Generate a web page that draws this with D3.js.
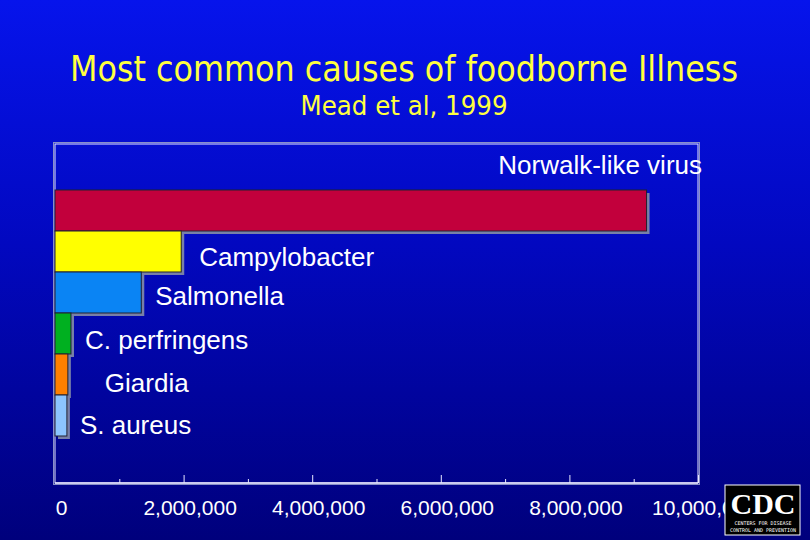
<!DOCTYPE html>
<html>
<head>
<meta charset="utf-8">
<script src="https://cdn.jsdelivr.net/npm/d3@7"></script>
<style>
  html, body { margin: 0; padding: 0; background: #00008a; }
  svg { display: block; }
</style>
</head>
<body>
<svg id="chart" width="810" height="540"></svg>
<script>
// ---- data ----
const categories = ["Norwalk-like virus", "Campylobacter", "Salmonella", "C. perfringens", "Giardia", "S. aureus"];
const cases = [9200000, 1963141, 1341873, 248520, 200000, 185060];
const barColors = ["#c2003c", "#ffff00", "#0a84f4", "#00b020", "#ff8000", "#8cc4ff"];
const tickValues = [0, 2000000, 4000000, 6000000, 8000000, 10000000];
const minorTickValues = [1000000, 3000000, 5000000, 7000000, 9000000];
const titleText = "Most common causes of foodborne Illness";
const subtitleText = "Mead et al, 1999";

// ---- layout (styling only) ----
const labelDx = [0, 18, 14, 14, 37, 13];
const labelDy = [0, 7, 5, 8, 10, 11];

const svg = d3.select("#chart");
const W = 810, H = 540;

const defs = svg.append("defs");
const grad = defs.append("linearGradient").attr("id", "bg").attr("x1", 0).attr("y1", 0).attr("x2", 0).attr("y2", 1);
grad.append("stop").attr("offset", "0%").attr("stop-color", "#0614ec");
grad.append("stop").attr("offset", "45%").attr("stop-color", "#0208c0");
grad.append("stop").attr("offset", "100%").attr("stop-color", "#00007c");
svg.append("rect").attr("width", W).attr("height", H).attr("fill", "url(#bg)");

// titles
svg.append("text").attr("x", 404).attr("y", 81).attr("text-anchor", "middle")
  .attr("font-family", "'Liberation Sans Narrow', 'DejaVu Sans Condensed', 'Liberation Sans', sans-serif")
  .attr("font-size", 35).attr("fill", "#ffff40")
  .attr("textLength", 668).attr("lengthAdjust", "spacingAndGlyphs")
  .text(titleText);
svg.append("text").attr("x", 404).attr("y", 115).attr("text-anchor", "middle")
  .attr("font-family", "'Liberation Sans Narrow', 'DejaVu Sans Condensed', 'Liberation Sans', sans-serif")
  .attr("font-size", 26).attr("fill", "#ffff40")
  .attr("textLength", 207).attr("lengthAdjust", "spacingAndGlyphs")
  .text(subtitleText);

// scales
const x0 = 55, x1 = 698, yTop = 144, yBottom = 483;
const x = d3.scaleLinear().domain([0, 10000000]).range([x0, x1]);
const y = d3.scaleBand().domain(categories).range([190, 436]).paddingInner(0).paddingOuter(0);

// plot frame
svg.append("rect").attr("x", x0 - 1.5).attr("y", yTop - 1.5).attr("width", x1 - x0 + 3).attr("height", yBottom - yTop + 3)
  .attr("fill", "none").attr("stroke", "#8890c8").attr("stroke-width", 1);
svg.append("rect").attr("x", x0).attr("y", yTop).attr("width", x1 - x0).attr("height", yBottom - yTop)
  .attr("fill", "none").attr("stroke", "#e8e8ff").attr("stroke-width", 1);

const data = categories.map((c, i) => ({ cat: c, v: cases[i], color: barColors[i], dx: labelDx[i], dy: labelDy[i], i }));

// bar shadows
svg.append("g").selectAll("rect").data(data).join("rect")
  .attr("x", x(0) + 3).attr("y", d => y(d.cat) + 3)
  .attr("width", d => x(d.v) - x(0)).attr("height", y.bandwidth())
  .attr("fill", "#7880a8");
// bars
svg.append("g").selectAll("rect").data(data).join("rect")
  .attr("x", x(0)).attr("y", d => y(d.cat))
  .attr("width", d => x(d.v) - x(0)).attr("height", y.bandwidth())
  .attr("fill", d => d.color).attr("stroke", "#202030").attr("stroke-width", 1);

// labels
svg.append("g").selectAll("text").data(data).join("text")
  .attr("x", d => d.i === 0 ? x1 + 4 : x(d.v) + d.dx)
  .attr("y", d => d.i === 0 ? y(d.cat) - 16 : y(d.cat) + y.bandwidth() / 2 + 1 + d.dy)
  .attr("text-anchor", d => d.i === 0 ? "end" : "start")
  .attr("dominant-baseline", d => d.i === 0 ? "auto" : "middle")
  .attr("font-family", "'Liberation Sans', Arial, sans-serif")
  .attr("font-size", 26).attr("fill", "#ffffff")
  .text(d => d.cat);

// axis
const axisG = svg.append("g").attr("transform", `translate(0,${yBottom})`);
axisG.append("line").attr("x1", x0).attr("x2", x1).attr("y1", 0).attr("y2", 0)
  .attr("stroke", "#e8e8ff").attr("stroke-width", 1.5);
const axis = d3.axisBottom(x).tickValues(tickValues).tickSize(-8).tickPadding(0)
  .tickFormat(d3.format(","));
const ax = axisG.append("g").call(axis);
ax.select(".domain").remove();
ax.selectAll(".tick line").attr("stroke", "#e8e8ff");
ax.selectAll(".tick").filter(d => d === 0).select("line").remove();
ax.selectAll(".tick text").attr("fill", "#ffffff")
  .attr("font-family", "'Liberation Sans', Arial, sans-serif")
  .attr("font-size", 21).attr("dx", 6).attr("dy", 0).attr("y", 32);
const minor = d3.axisBottom(x).tickValues(minorTickValues).tickSize(-4).tickFormat("");
const mg = axisG.append("g").call(minor);
mg.select(".domain").remove();
mg.selectAll(".tick line").attr("stroke", "#e8e8ff");

// CDC logo
const logo = svg.append("g").attr("transform", "translate(725,485)");
logo.append("rect").attr("width", 75).attr("height", 50).attr("fill", "#000").attr("stroke", "#fff").attr("stroke-width", 1);
logo.append("text").attr("x", 38).attr("y", 29).attr("text-anchor", "middle")
  .attr("font-family", "'Liberation Serif', serif").attr("font-weight", "bold")
  .attr("font-size", 30).attr("fill", "#fff").text("CDC");
logo.append("text").attr("x", 38).attr("y", 40).attr("text-anchor", "middle")
  .attr("font-family", "'DejaVu Sans Mono', monospace").attr("font-size", 5).attr("fill", "#fff")
  .text("CENTERS FOR DISEASE");
logo.append("text").attr("x", 38).attr("y", 47).attr("text-anchor", "middle")
  .attr("font-family", "'DejaVu Sans Mono', monospace").attr("font-size", 5).attr("fill", "#fff")
  .text("CONTROL AND PREVENTION");
</script>
</body>
</html>
